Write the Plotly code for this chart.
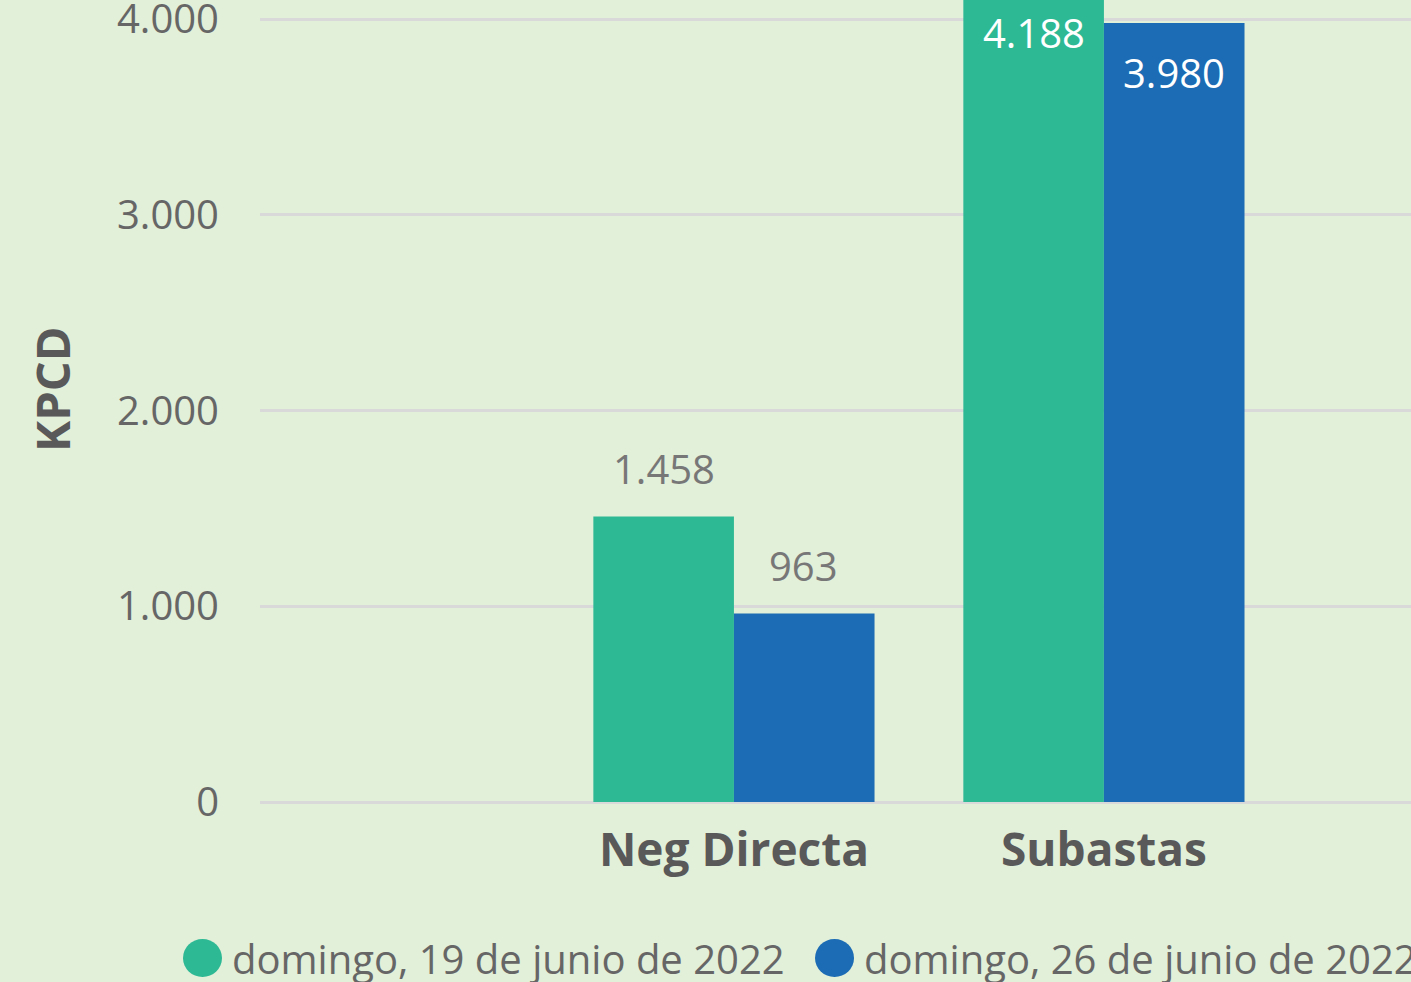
import plotly.graph_objects as go

categories = ["Neg Directa", "Subastas"]
series_names = ["domingo, 19 de junio de 2022", "domingo, 26 de junio de 2022"]
values_19 = [1458, 4188]
values_26 = [963, 3980]
y_ticks = [0, 1000, 2000, 3000, 4000]
y_ticktext = ["0", "1.000", "2.000", "3.000", "4.000"]
colors = ["#2DB994", "#1B6CB4"]

def fmt(v):
    return f"{v:,}".replace(",", ".")

BG = "#E2EFD9"
FONT = "Open Sans"
CROP_TOP = 60          # the reference is cropped at the top: hide this many px
PLOT_H = 862           # plot area height in figure px
Y_MAX = 4404

fig = go.Figure()
for name, vals, col in zip(series_names, [values_19, values_26], colors):
    fig.add_trace(go.Bar(
        x=categories, y=vals, name=name, marker=dict(color=col, line=dict(width=0)),
        showlegend=False, cliponaxis=True,
    ))

annotations = []
for vals, shift in zip([values_19, values_26], [-70, 70]):
    for c, v in zip(categories, vals):
        inside = v > 3000
        annotations.append(dict(
            x=c, y=v, xref="x", yref="y", text=fmt(v), showarrow=False,
            xshift=shift, yshift=(-50 if inside else 48), yanchor="middle",
            font=dict(family=FONT, size=40, color=("white" if inside else "#777777"))))

# y-axis title
annotations.append(dict(x=-0.1807, y=(PLOT_H - 450) / PLOT_H, xref="paper", yref="paper",
                        text="<b>KPCD</b>", textangle=-90, showarrow=False,
                        xanchor="center", yanchor="middle",
                        font=dict(family=FONT, size=47, color="#595959")))

# manual legend (circle markers)
shapes = []
leg_y = (PLOT_H - 1018) / PLOT_H
legend_pos = [(-0.0669, -0.026), (0.4822, 0.523)]
for (cx, tx), name, col in zip(legend_pos, series_names, colors):
    shapes.append(dict(type="circle", xref="paper", yref="paper", xsizemode="pixel", ysizemode="pixel",
                       xanchor=cx, yanchor=leg_y, x0=0, x1=39, y0=-19, y1=19,
                       fillcolor=col, line=dict(width=0)))
    annotations.append(dict(x=tx, y=leg_y, xref="paper", yref="paper", text=name, showarrow=False,
                            xanchor="left", yanchor="middle",
                            font=dict(family=FONT, size=40, color="#666666")))

fig.update_layout(
    width=1411, height=982 + CROP_TOP,
    margin=dict(l=260, r=0, t=0, b=180, pad=0),
    paper_bgcolor=BG, plot_bgcolor=BG,
    barmode="group", bargap=0.24, bargroupgap=0,
    annotations=annotations, shapes=shapes,
    showlegend=False,
    xaxis=dict(range=[-1.281, 1.83], showgrid=False, zeroline=False, showline=False, ticks="",
               tickfont=dict(family=FONT, size=46, color="#595959", weight="bold"),
               ticklabelstandoff=17),
    yaxis=dict(range=[0, Y_MAX], tickvals=y_ticks, ticktext=y_ticktext,
               showgrid=True, gridcolor="#D9D9D9", gridwidth=3,
               zeroline=True, zerolinecolor="#D9D9D9", zerolinewidth=3,
               showline=False, ticks="", ticklabelstandoff=40,
               tickfont=dict(family=FONT, size=40, color="#666666")),
)

post = ("document.body.style.margin='0px';document.body.style.overflow='hidden';"
        "var d=document.getElementById('{plot_id}');d.style.marginTop='-%dpx';" % CROP_TOP)
fig.write_html("out.html", post_script=post)
